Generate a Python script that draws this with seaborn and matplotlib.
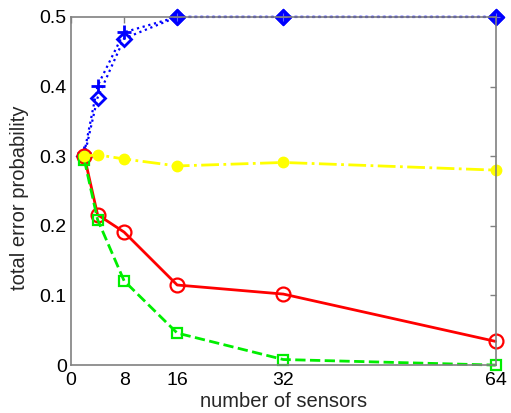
import matplotlib
matplotlib.use("Agg")
import matplotlib.pyplot as plt
import seaborn as sns
import pandas as pd

# number of sensors and total error probability per scheme
sensors = [2, 4, 8, 16, 32, 64]
err_plus = [0.305, 0.401, 0.478, 0.500, 0.500, 0.500]
err_diamond = [0.300, 0.384, 0.469, 0.500, 0.500, 0.500]
err_dot = [0.300, 0.302, 0.296, 0.286, 0.291, 0.280]
err_circle = [0.300, 0.216, 0.191, 0.115, 0.102, 0.034]
err_square = [0.295, 0.209, 0.121, 0.046, 0.008, 0.000]

x_ticks = [0, 8, 16, 32, 64]
y_ticks = [0, 0.1, 0.2, 0.3, 0.4, 0.5]
y_tick_labels = ["0", "0.1", "0.2", "0.3", "0.4", "0.5"]

sns.set_theme(style="white")
plt.rcParams["font.family"] = ["Liberation Sans", "DejaVu Sans"]

fig = plt.figure(figsize=(5.11, 4.13), dpi=100)
ax = fig.add_axes([0.139, 0.116, 0.831, 0.843])

BLUE, YELLOW, RED, GREEN = "#0000ff", "#ffff00", "#ff0000", "#00ee00"

series = [
    (err_plus, dict(color=BLUE, linestyle=":", linewidth=1.6, marker="+",
                    markersize=10, markeredgewidth=2, markeredgecolor=BLUE)),
    (err_diamond, dict(color=BLUE, linestyle=":", linewidth=1.6, marker="D",
                       markersize=7, markeredgewidth=2, markeredgecolor=BLUE,
                       markerfacecolor="none")),
    (err_circle, dict(color=RED, linestyle="-", linewidth=2, marker="o",
                      markersize=10, markeredgewidth=1.6, markeredgecolor=RED,
                      markerfacecolor="none")),
    (err_square, dict(color=GREEN, linestyle="--", linewidth=2, marker="s",
                      markersize=7, markeredgewidth=1.6, markeredgecolor=GREEN,
                      markerfacecolor="none")),
    (err_dot, dict(color=YELLOW, linestyle="-.", linewidth=2, marker="o",
                   markersize=7.5, markeredgewidth=1, markeredgecolor=YELLOW,
                   markerfacecolor=YELLOW)),
]

for values, style in series:
    df = pd.DataFrame({"n": sensors, "p": values})
    sns.lineplot(data=df, x="n", y="p", ax=ax, clip_on=False, **style)

# filled diamonds where the blue curve saturates
sat = pd.DataFrame({"n": sensors[3:], "p": err_diamond[3:]})
sns.lineplot(data=sat, x="n", y="p", ax=ax, color=BLUE, linestyle="none",
             marker="D", markersize=8, markeredgewidth=1, markeredgecolor=BLUE,
             clip_on=False)
sns.lineplot(data=sat, x="n", y="p", ax=ax, color="#4444ff", linestyle="none",
             marker="+", markersize=6, markeredgewidth=0.8,
             markeredgecolor="#6666ff", clip_on=False)

ax.set_xlim(0, 64)
ax.set_ylim(0, 0.5)
ax.set_xticks(x_ticks)
ax.set_xticklabels([str(t) for t in x_ticks])
ax.set_yticks(y_ticks)
ax.set_yticklabels(y_tick_labels)
ax.set_xlabel("number of sensors", fontsize=14.5, labelpad=2)
ax.set_ylabel("total error probability", fontsize=14.5, labelpad=4)
ax.yaxis.set_label_coords(-0.10, 0.48)
ax.tick_params(axis="both", which="both", direction="in", length=4, width=1,
               colors="#808080", labelcolor="black", labelsize=14,
               top=True, right=True, pad=3)
ax.tick_params(axis="x", pad=5)
for sp in ax.spines.values():
    sp.set_color("#808080")
    sp.set_linewidth(1.2)

fig.savefig("out.png", dpi=100)
